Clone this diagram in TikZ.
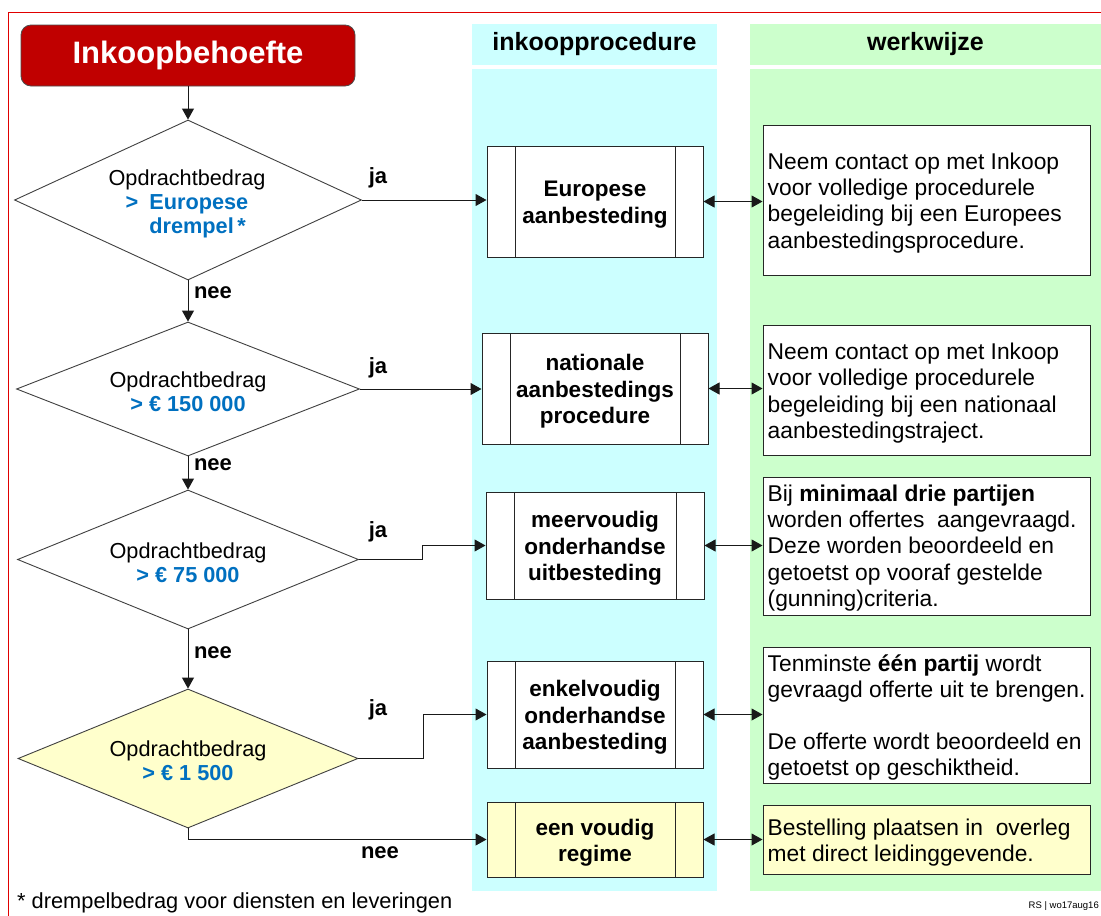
\documentclass[tikz,border=0pt]{standalone}
\usepackage{fontspec}
\setmainfont{Liberation Sans}
\usetikzlibrary{shapes.geometric,arrows.meta,calc}
\definecolor{darkred}{HTML}{C00000}
\definecolor{tblue}{HTML}{0070C0}
\definecolor{cyanbg}{HTML}{CCFFFF}
\definecolor{greenbg}{HTML}{CCFFCC}
\definecolor{yellowbg}{HTML}{FFFFCC}
\definecolor{borderred}{HTML}{E00000}
\begin{document}
\begin{tikzpicture}[x=1pt,y=-1pt,
  titlebox/.style={draw=black!70, line width=0.8pt, fill=darkred, rounded corners=10pt, minimum width=334pt, minimum height=61pt, inner sep=0pt, text=white, font=\fontsize{31}{34}\selectfont\bfseries},
  colhead/.style={minimum height=41pt, inner sep=0pt, font=\fontsize{25}{28}\selectfont\bfseries},
  dia/.style={diamond, draw=black!75, line width=0.9pt, inner sep=0pt, fill=white},
  dtext/.style={align=center, inner sep=0pt, font=\fontsize{21.7}{24}\selectfont},
  proc/.style={draw=black!85, line width=1pt, fill=white, inner sep=0pt,
    path picture={\draw[black!85,line width=0.8pt]
      ([xshift=28pt]path picture bounding box.north west) -- ([xshift=28pt]path picture bounding box.south west)
      ([xshift=-28pt]path picture bounding box.north east) -- ([xshift=-28pt]path picture bounding box.south east);}},
  ptext/.style={align=center, inner sep=0pt, font=\fontsize{22.5}{26.5}\selectfont\bfseries},
  rbox/.style={draw=black!85, line width=1pt, fill=white, minimum width=327pt, inner sep=0pt},
  rtext/.style={anchor=west, align=left, inner sep=0pt, font=\fontsize{22.8}{26.2}\selectfont},
  lbl/.style={inner sep=0pt, font=\fontsize{22}{24}\selectfont\bfseries},
  arr/.style={-{Triangle[length=11pt,width=12pt]}, line width=1pt, draw=black!90},
  darr/.style={{Triangle[length=11pt,width=12pt]}-{Triangle[length=11pt,width=12pt]}, line width=1pt, draw=black!90}
]
\useasboundingbox (0,0) rectangle (1101,916);
\fill[white] (0,0) rectangle (1101,916);
% border
\draw[borderred, line width=1.5pt] (8.5,916) -- (8.5,12.5) -- (1101,12.5);
% columns
\node[colhead, fill=cyanbg, minimum width=245pt] (h1) at (594.5,44.5) {inkoopprocedure};
\node[colhead, fill=greenbg, minimum width=351pt] (h2) at (925.5,44.5) {werkwijze};
\fill[cyanbg] (472,69) rectangle (717,891);
\fill[greenbg] (750,69) rectangle (1101,891);
% start
\node[titlebox] (start) at (188,55.5) {Inkoopbehoefte};
% diamonds
\node[dia, minimum width=347pt, minimum height=160pt] (D1) at (188,200) {};
\node[dia, minimum width=343pt, minimum height=134pt] (D2) at (188,389) {};
\node[dia, minimum width=341pt, minimum height=139pt] (D3) at (188,559.5) {};
\node[dia, minimum width=340pt, minimum height=139pt, fill=yellowbg] (D4) at (188,758.5) {};
\node[dtext] (t1) at (187,205) {Opdrachtbedrag\\{\color{tblue}\bfseries\begin{tabular}[t]{@{}l@{\hspace{11pt}}l@{}}>&Europese\\&drempel\,*\end{tabular}}};
\node[dtext] (t2) at (188,392) {Opdrachtbedrag\\{\color{tblue}\bfseries > € 150 000}};
\node[dtext] (t3) at (188,562.5) {Opdrachtbedrag\\{\color{tblue}\bfseries > € 75 000}};
\node[dtext] (t4) at (188,760.5) {Opdrachtbedrag\\{\color{tblue}\bfseries > € 1 500}};
% procedure boxes
\node[proc, minimum width=216pt, minimum height=111pt] (B1) at (595,201.5) {};
\node[proc, minimum width=226pt, minimum height=111pt] (B2) at (595,388.5) {};
\node[proc, minimum width=218pt, minimum height=107pt] (B3) at (595,545.5) {};
\node[proc, minimum width=216pt, minimum height=107pt] (B4) at (595,714.5) {};
\node[proc, minimum width=216pt, minimum height=75pt, fill=yellowbg] (B5) at (595,839.5) {};
\node[ptext] (p1) at ([yshift=-3pt]B1.center) {Europese\\aanbesteding};
\node[ptext] (p2) at ([yshift=-3pt]B2.center) {nationale\\aanbestedings\\procedure};
\node[ptext] (p3) at ([yshift=-3pt]B3.center) {meervoudig\\onderhandse\\uitbesteding};
\node[ptext] (p4) at ([yshift=-3pt]B4.center) {enkelvoudig\\onderhandse\\aanbesteding};
\node[ptext] (p5) at ([yshift=-3pt]B5.center) {een voudig\\regime};
% right boxes
\node[rbox, minimum height=150pt] (R1) at (926.5,200) {};
\node[rbox, minimum height=130pt] (R2) at (926.5,390) {};
\node[rbox, minimum height=138pt] (R3) at (926.5,546) {};
\node[rbox, minimum height=136pt] (R4) at (926.5,715.5) {};
\node[rbox, minimum height=69pt, fill=yellowbg] (R5) at (926.5,839.5) {};
\node[rtext] (r1) at ([xshift=5pt,yshift=-3pt]R1.west) {Neem contact op met Inkoop\\voor volledige procedurele\\begeleiding bij een Europees\\aanbestedingsprocedure.};
\node[rtext] (r2) at ([xshift=5pt,yshift=-3pt]R2.west) {Neem contact op met Inkoop\\voor volledige procedurele\\begeleiding bij een nationaal\\aanbestedingstraject.};
\node[rtext] (r3) at ([xshift=5pt,yshift=-2pt]R3.west) {Bij \textbf{minimaal drie partijen}\\worden offertes\ \ aangevraagd.\\Deze worden beoordeeld en\\getoetst op vooraf gestelde\\(gunning)criteria.};
\node[rtext] (r4) at ([xshift=5pt,yshift=-2pt]R4.west) {Tenminste \textbf{één partij} wordt\\gevraagd offerte uit te brengen.\\[26.2pt]De offerte wordt beoordeeld en\\getoetst op geschiktheid.};
\node[rtext] (r5) at ([xshift=5pt,yshift=-3pt]R5.west) {Bestelling plaatsen in\ \ overleg\\met direct leidinggevende.};
% connectors
\draw[arr] (start.south) -- (D1.north);
\draw[arr] (D1.south) -- (D2.north);
\draw[arr] (D2.south) -- (D3.north);
\draw[arr] (D3.south) -- (D4.north);
\draw[arr] (D1.east) -- (D1.east -| B1.west);
\draw[arr] (D2.east) -- (D2.east -| B2.west);
\draw[arr] (D3.east) -- ++(64,0) |- (B3.west);
\draw[arr] (D4.east) -- ++(65,0) |- (B4.west);
\draw[arr] (D4.south) |- (B5.west);
\draw[darr] (B1.east) -- (B1.east -| R1.west);
\draw[darr] (B2.east) -- (B2.east -| R2.west);
\draw[darr] (B3.east) -- (B3.east -| R3.west);
\draw[darr] (B4.east) -- (B4.east -| R4.west);
\draw[darr] (B5.east) -- (B5.east -| R5.west);
% labels
\node[lbl] (ja1) at (378,178) {ja};
\node[lbl] (ja2) at (378,368) {ja};
\node[lbl] (ja3) at (378,532) {ja};
\node[lbl] (ja4) at (378,710) {ja};
\node[lbl] (nee1) at (213,293) {nee};
\node[lbl] (nee2) at (213,465) {nee};
\node[lbl] (nee3) at (213,653) {nee};
\node[lbl] (nee4) at (380,853) {nee};
\node[anchor=west, inner sep=0pt, font=\fontsize{21.8}{24}\selectfont] (foot) at (17,903) {* drempelbedrag voor diensten en leveringen};
\node[anchor=east, inner sep=0pt, font=\fontsize{9.5}{10}\selectfont] (rs) at (1099,906) {RS | wo17aug16};
\end{tikzpicture}
\end{document}
